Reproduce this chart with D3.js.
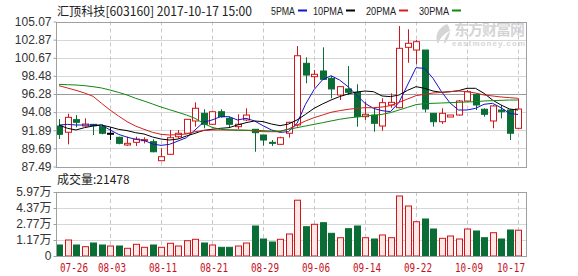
<!DOCTYPE html>
<html>
<head>
<meta charset="utf-8">
<script src="https://cdn.jsdelivr.net/npm/d3@7/dist/d3.min.js"></script>
<style>
  body { margin: 0; background: #fff; }
  svg text { font-family: "Liberation Sans", Arial, sans-serif; }
</style>
</head>
<body>
<div class="canvas"></div>
<script>
// trading days shown on the chart
const dates = ['07-26','07-27','07-28','07-31','08-01','08-02','08-03','08-04','08-07','08-08',
  '08-09','08-10','08-11','08-14','08-15','08-16','08-17','08-18','08-21','08-22',
  '08-23','08-24','08-25','08-28','08-29','08-30','08-31','09-01','09-04','09-05',
  '09-06','09-07','09-08','09-11','09-12','09-13','09-14','09-15','09-18','09-19',
  '09-20','09-21','09-22','09-25','09-26','09-27','09-28','09-29','10-09','10-10',
  '10-11','10-12','10-13','10-16','10-17'];

// daily prices
const open = [92.40,91.64,93.17,92.40,92.60,92.32,91.52,91.03,90.10,90.42,
  90.62,90.50,88.19,88.97,91.10,91.52,93.01,93.94,92.61,94.13,
  93.33,92.32,93.13,92.00,91.31,90.42,90.18,91.52,92.52,100.00,
  98.38,99.07,98.18,96.16,96.89,96.49,93.53,93.73,92.40,94.95,
  94.62,101.94,101.61,101.61,93.94,92.92,93.49,93.73,95.43,96.24,
  94.43,93.01,94.34,94.34,92.12];
const high = [93.25,93.89,93.73,93.33,92.64,92.61,92.20,91.10,91.10,91.10,
  91.03,90.79,89.70,91.92,91.92,93.25,95.27,94.43,94.26,94.43,
  93.53,93.82,94.55,92.00,91.31,90.70,91.10,92.92,102.10,100.73,
  99.19,101.94,98.46,97.25,99.67,97.46,95.35,94.55,95.76,96.36,
  104.52,104.12,102.83,101.61,93.94,94.55,93.73,95.55,96.76,96.36,
  94.55,94.95,94.95,94.43,95.76];
const low = [90.82,90.18,92.24,92.33,91.31,91.40,90.70,90.18,89.98,89.98,
  90.30,89.21,88.15,88.88,90.91,91.43,92.32,92.12,92.52,93.41,
  92.19,92.04,93.01,89.28,90.01,89.98,90.10,90.98,92.32,97.58,
  97.04,98.00,95.76,95.55,96.16,92.32,93.13,91.71,91.83,94.62,
  94.55,100.07,99.88,94.06,92.32,92.64,93.49,93.65,95.35,94.34,
  93.53,92.12,93.33,90.70,92.04];
const close = [91.39,93.45,92.85,92.64,92.44,91.52,91.52,90.30,90.30,90.82,
  90.74,89.28,88.68,90.98,91.52,93.21,94.55,92.61,94.13,93.53,
  92.61,92.61,93.73,91.59,90.70,90.36,90.98,92.85,100.92,98.58,
  98.67,98.06,96.89,97.17,96.49,93.53,93.82,92.73,95.23,95.27,
  101.82,102.43,102.62,94.46,92.92,93.94,93.73,95.43,96.56,94.95,
  93.82,94.83,94.13,91.52,94.46];

// daily volume (lots)
const volume = [6700,11700,6700,5000,8700,6700,5700,5700,3400,7400,
  4400,6700,4400,8400,5700,11000,12400,8700,6700,4400,
  4400,5700,8700,25700,12700,9700,12400,17700,51500,25000,
  27400,29000,18400,14000,23000,25700,14000,12700,16700,14000,
  55700,45700,30000,32700,22700,13400,15700,12700,22700,20700,
  14000,19000,12700,21700,21478];

// moving averages
const ma5 = [92.52,92.60,92.52,92.52,92.52,92.52,91.92,91.39,91.05,90.78,
  90.66,90.22,90.05,90.18,90.58,90.99,91.92,92.85,93.13,93.53,
  93.53,93.13,93.33,93.01,92.44,91.92,91.63,91.71,92.72,95.03,
  96.80,98.00,98.50,97.98,97.17,96.16,95.15,94.54,94.26,94.14,
  95.27,97.37,99.47,99.39,98.18,96.56,95.20,94.34,94.34,94.54,
  95.03,95.15,94.62,93.93,93.80];
const ma10 = [92.52,92.12,91.92,92.20,92.40,92.52,92.28,92.00,91.84,91.59,
  91.43,91.07,90.82,90.70,90.82,91.19,91.51,91.87,92.00,92.12,
  92.20,92.52,92.80,93.01,92.93,92.64,92.44,92.64,93.13,93.81,
  94.54,95.07,95.55,95.96,96.28,96.52,96.64,96.56,96.04,95.96,
  96.16,96.72,97.17,96.97,96.64,96.48,96.56,96.68,96.97,96.97,
  96.36,95.55,94.95,94.46,94.34];
const ma20 = [97.29,97.01,96.72,96.40,96.00,95.15,94.34,93.61,92.93,92.40,
  92.00,91.63,91.39,91.31,91.35,91.43,91.71,91.84,91.92,91.92,
  91.92,91.92,91.88,91.79,91.71,91.71,91.71,92.04,92.52,93.01,
  93.41,93.73,94.06,94.26,94.42,94.54,94.62,94.62,94.70,94.87,
  95.27,95.67,96.08,96.24,96.40,96.48,96.56,96.64,96.56,96.40,
  96.16,96.04,95.92,95.84,95.76];
const ma30 = [97.45,97.41,97.37,97.29,97.17,97.01,96.76,96.48,96.16,95.76,
  95.43,95.07,94.70,94.38,94.06,93.73,93.33,92.72,92.24,92.00,
  91.92,91.88,91.88,91.88,91.84,91.79,91.79,91.99,92.20,92.40,
  92.60,92.80,93.01,93.21,93.37,93.49,93.61,93.69,93.81,94.02,
  94.34,94.66,94.99,95.11,95.15,95.19,95.23,95.27,95.31,95.35,
  95.43,95.47,95.51,95.55,95.55];

// axis ticks
const priceTicks = [105.07,102.87,100.67,98.48,96.28,94.08,91.89,89.69,87.49];
const volTicks = [-4300,11700,27700,43700,59700];
const volTickLabels = ['0','1.17万','2.77万','4.37万','5.97万'];
const dateTicks = ['07-26','08-03','08-11','08-21','08-29','09-06','09-14','09-22','10-09','10-17'];

const maNames = ['5PMA','10PMA','20PMA','30PMA'];
const maColors = ['#1414c8','#000000','#d42020','#118811'];

// layout
const dims = { width: 578, height: 276, left: 56, right: 526,
  priceTop: 21.5, priceBottom: 166.5, volTop: 192, volBottom: 256 };

const red = '#d0161b', green = '#0a6d36';

const svg = d3.select('.canvas')
  .append('svg')
  .attr('width', dims.width)
  .attr('height', dims.height);

// scales
const x = d3.scalePoint().domain(dates).range([59, 518]);
const y = d3.scaleLinear().domain([87.49, 105.07]).range([dims.priceBottom, dims.priceTop]);
const yv = d3.scaleLinear().domain([-4300, 59700]).range([dims.volBottom, dims.volTop]);
const px = d => Math.round(x(d)) + 0.5;

// header
svg.append('text')
  .attr('x', 57).attr('y', 16)
  .attr('font-size', 12.5).attr('fill', '#222')
  .attr('textLength', 195).attr('lengthAdjust', 'spacingAndGlyphs')
  .style('font-family', '"Noto Sans CJK SC", sans-serif')
  .text('汇顶科技[603160] 2017-10-17 15:00');

const legendX = [271, 313, 366, 419];
const legend = svg.append('g').selectAll('g')
  .data(maNames).enter().append('g')
  .attr('transform', (d, i) => `translate(${legendX[i]},0)`);
legend.append('text')
  .attr('y', 15).attr('font-size', 11.5).attr('fill', '#222')
  .attr('textLength', (d) => d.length * 6).attr('lengthAdjust', 'spacingAndGlyphs')
  .text(d => d);
legend.append('line')
  .attr('x1', d => d.length * 6 + 3).attr('x2', d => d.length * 6 + 12)
  .attr('y1', 10.5).attr('y2', 10.5)
  .attr('stroke', (d, i) => maColors[i]).attr('stroke-width', 2);

// watermark
const wm = svg.append('g').attr('opacity', 0.35);
wm.append('text').attr('x', 454).attr('y', 35)
  .attr('font-size', 15).attr('font-weight', 'bold').attr('fill', '#888')
  .style('font-family', '"Noto Sans CJK SC", sans-serif')
  .attr('textLength', 71)
  .text('东方财富网');
wm.append('text').attr('x', 452).attr('y', 46)
  .attr('font-size', 8).attr('font-weight', 'bold').attr('fill', '#888')
  .attr('textLength', 73)
  .text('eastmoney.com');
wm.append('path')
  .attr('d', 'M447,24 C438,28 434,36 438,44 C440,38 444,33 452,30 C447,33 444,38 444,44 C450,38 452,30 447,24 Z')
  .attr('fill', '#888');

// grids for the price panel
const gridP = svg.append('g');
gridP.selectAll('line.h')
  .data(priceTicks.slice(1, -1)).enter().append('line')
  .attr('x1', dims.left).attr('x2', dims.right)
  .attr('y1', d => Math.round(y(d)) + 0.5).attr('y2', d => Math.round(y(d)) + 0.5)
  .attr('stroke', d => d === 96.28 ? '#9a9a9a' : '#d6d6d6');
gridP.selectAll('line.v')
  .data(dateTicks.slice(1)).enter().append('line')
  .attr('x1', px).attr('x2', px)
  .attr('y1', dims.priceTop).attr('y2', dims.priceBottom)
  .attr('stroke', '#c8c8c8').attr('stroke-dasharray', '4,3');

// grids for the volume panel
const gridV = svg.append('g');
gridV.selectAll('line.h')
  .data(volTicks.slice(1, -1)).enter().append('line')
  .attr('x1', dims.left).attr('x2', dims.right)
  .attr('y1', d => Math.round(yv(d)) + 0.5).attr('y2', d => Math.round(yv(d)) + 0.5)
  .attr('stroke', '#d6d6d6');
gridV.selectAll('line.v')
  .data(dateTicks.slice(1)).enter().append('line')
  .attr('x1', px).attr('x2', px)
  .attr('y1', dims.volTop).attr('y2', dims.volBottom)
  .attr('stroke', '#c8c8c8').attr('stroke-dasharray', '4,3');

// candles
const rows = dates.map((d, i) => ({ d, o: open[i], h: high[i], l: low[i], c: close[i], v: volume[i] }));
const candleColor = r => r.c > r.o ? red : (r.c < r.o ? green : '#000');

const candles = svg.append('g').selectAll('g')
  .data(rows).enter().append('g');
candles.append('line')
  .attr('x1', r => px(r.d)).attr('x2', r => px(r.d))
  .attr('y1', r => y(r.h)).attr('y2', r => y(r.l))
  .attr('stroke', candleColor);
candles.append('rect')
  .attr('x', r => px(r.d) - 3).attr('width', 6)
  .attr('y', r => y(Math.max(r.o, r.c)))
  .attr('height', r => Math.max(1, y(Math.min(r.o, r.c)) - y(Math.max(r.o, r.c))))
  .attr('fill', r => r.c > r.o ? '#fff' : candleColor(r))
  .attr('stroke', candleColor);

// moving average lines
const maData = [ma5, ma10, ma20, ma30];
const line = d3.line().x((v, i) => x(dates[i])).y(v => y(v));
svg.append('g').selectAll('path')
  .data(maData).enter().append('path')
  .attr('d', line)
  .attr('fill', 'none')
  .attr('stroke', (d, i) => maColors[i])
  .attr('stroke-width', 1);

// volume bars
svg.append('g').selectAll('rect')
  .data(rows).enter().append('rect')
  .attr('x', r => px(r.d) - 3).attr('width', 6)
  .attr('y', r => yv(r.v))
  .attr('height', r => yv(-4300) - yv(r.v))
  .attr('fill', r => r.c >= r.o ? '#fde8e8' : green)
  .attr('stroke', r => r.c >= r.o ? red : green);

// panel borders
[[dims.priceTop, dims.priceBottom], [dims.volTop, dims.volBottom]].forEach(p => {
  svg.append('rect')
    .attr('x', dims.left + 0.5).attr('y', Math.round(p[0]) + 0.5)
    .attr('width', dims.right - dims.left).attr('height', Math.round(p[1]) - Math.round(p[0]))
    .attr('fill', 'none').attr('stroke', '#a0a0a0');
});

// y axes
const priceAxis = svg.append('g')
  .attr('transform', `translate(${dims.left + 0.5},0)`)
  .call(d3.axisLeft(y).tickValues(priceTicks).tickSize(3).tickPadding(2).tickFormat(d3.format('.2f')));
const volAxis = svg.append('g')
  .attr('transform', `translate(${dims.left + 0.5},0)`)
  .call(d3.axisLeft(yv).tickValues(volTicks).tickSize(3).tickPadding(2)
    .tickFormat((d, i) => volTickLabels[i]));
[priceAxis, volAxis].forEach(a => {
  a.select('.domain').remove();
  a.selectAll('line').attr('stroke', '#a0a0a0');
  a.selectAll('text').attr('fill', '#333').attr('font-size', 12)
    .style('font-family', '"Liberation Sans", "Noto Sans CJK SC", sans-serif');
});

// volume title
svg.append('text')
  .attr('x', 57).attr('y', 184)
  .attr('font-size', 12).attr('fill', '#222')
  .style('font-family', '"Noto Sans CJK SC", sans-serif')
  .text('成交量:' + volume[volume.length - 1]);

// date labels
svg.append('g').selectAll('text')
  .data(dateTicks).enter().append('text')
  .attr('x', (d, i) => i === 0 ? 60 : (i === dateTicks.length - 1 ? 525 : x(d) + 2))
  .attr('y', 272)
  .attr('text-anchor', (d, i) => i === 0 ? 'start' : (i === dateTicks.length - 1 ? 'end' : 'middle'))
  .attr('font-size', 12).attr('fill', '#c8101a')
  .attr('textLength', 28).attr('lengthAdjust', 'spacingAndGlyphs')
  .style('font-family', '"DejaVu Sans Mono", monospace')
  .text(d => d);
</script>
</body>
</html>
